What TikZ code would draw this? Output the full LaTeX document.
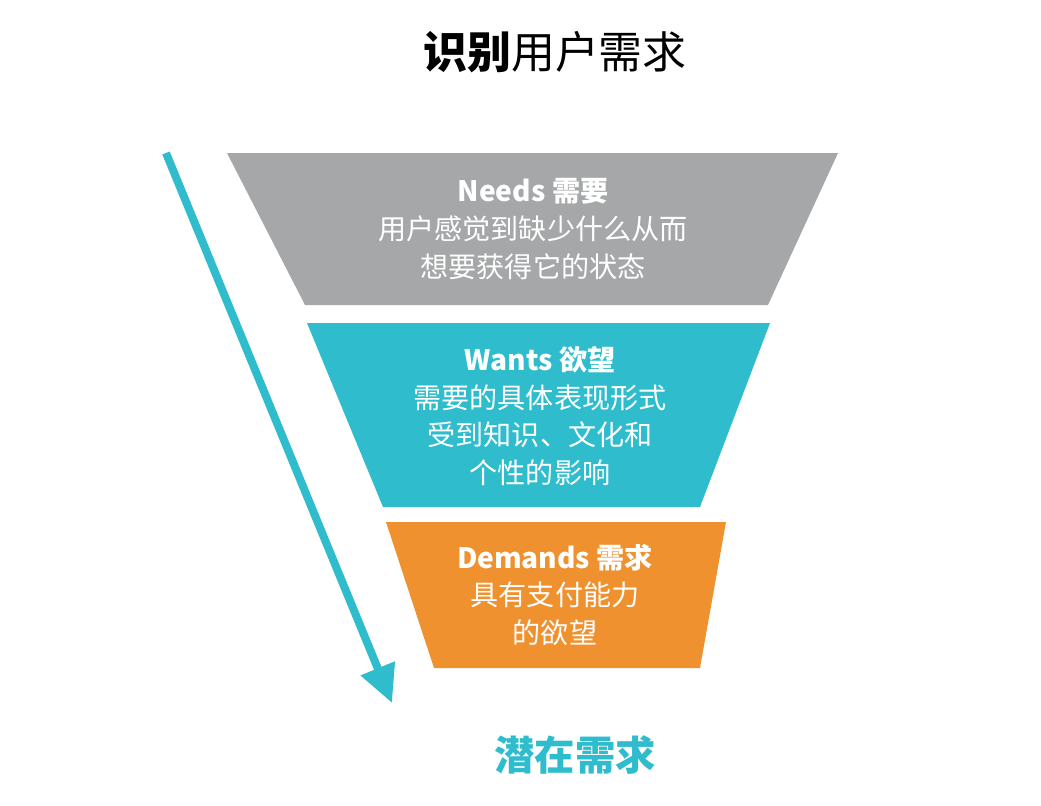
\documentclass[tikz,border=0pt]{standalone}
\usepackage{fontspec}
\setmainfont{Noto Sans CJK SC}
\usetikzlibrary{arrows.meta}
\definecolor{gr}{HTML}{A5A7A8}
\definecolor{cy}{HTML}{2FBCCD}
\definecolor{og}{HTML}{F0912F}
\tikzset{lbl/.style={text=white,align=center,font=\fontsize{16}{21.5}\selectfont}}
\begin{document}
\begin{tikzpicture}[x=0.02cm,y=-0.02cm]
\useasboundingbox (0,0) rectangle (1041,805);
\node (title) at (555,52) {\fontsize{25}{30}\selectfont\textbf{识别}用户需求};
\fill[gr] (227,153) -- (838,153) -- (768,305) -- (305,305) -- cycle;
\fill[cy] (307,323) -- (770,323) -- (700,507) -- (383,507) -- cycle;
\fill[og] (386,522) -- (726,522) -- (700,668) -- (434,668) -- cycle;
\node[lbl] (needs) at (533,229) {\textbf{Needs 需要}\\用户感觉到缺少什么从而\\想要获得它的状态};
\node[lbl] (wants) at (540,416) {\textbf{Wants 欲望}\\需要的具体表现形式\\受到知识、文化和\\个性的影响};
\node[lbl] (demands) at (555,595) {\textbf{Demands 需求}\\具有支付能力\\的欲望};
\coordinate (a) at (166,153);
\coordinate (b) at (392,703);
\draw[cy,line width=8\pgflinewidth/0.4*0.02cm/8,line width=0.16cm,-{Triangle[length=0.75cm,width=0.7cm]}] (a) -- (b);
\node[text=cy] (latent) at (575,755) {\fontsize{23}{28}\selectfont\textbf{潜在需求}};
\end{tikzpicture}
\end{document}
